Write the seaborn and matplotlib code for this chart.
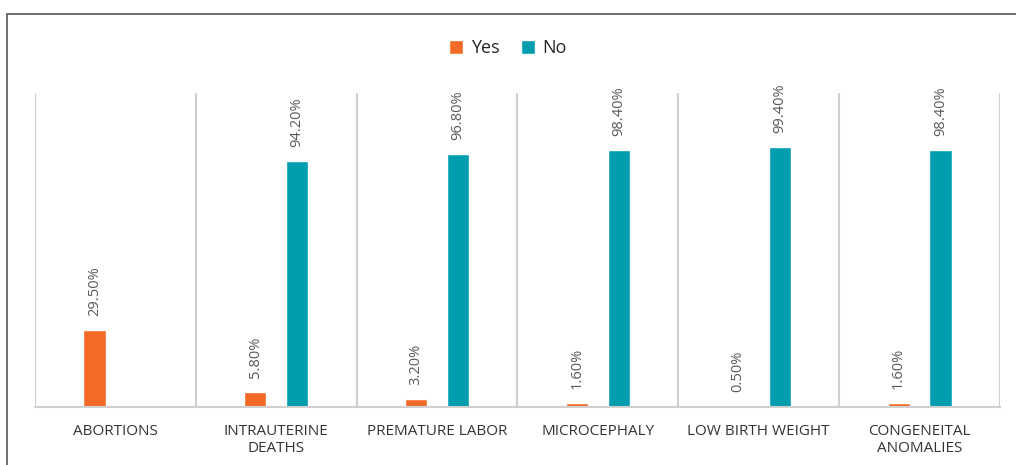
import pandas as pd
import numpy as np
import matplotlib.pyplot as plt
import seaborn as sns
from matplotlib.patches import Rectangle

# data
categories = ["ABORTIONS", "INTRAUTERINE\nDEATHS", "PREMATURE LABOR",
              "MICROCEPHALY", "LOW BIRTH WEIGHT", "CONGENEITAL\nANOMALIES"]
yes_values = [29.5, 5.8, 3.2, 1.6, 0.5, 1.6]
no_values = [None, 94.2, 96.8, 98.4, 99.4, 98.4]

rows = []
for cat, y, n in zip(categories, yes_values, no_values):
    rows.append({"Outcome": cat, "Response": "Yes", "Percent": y})
    if n is not None:
        rows.append({"Outcome": cat, "Response": "No", "Percent": n})
df = pd.DataFrame(rows)

sns.set_style("white")
plt.rcParams['font.family'] = ['Open Sans', 'DejaVu Sans']

fig = plt.figure(figsize=(10.16, 4.65), dpi=100)
ax = fig.add_axes([0.0344, 0.1247, 0.9498, 0.6753])

sns.barplot(data=df, x="Outcome", y="Percent", hue="Response",
            order=categories, hue_order=["Yes", "No"],
            palette={"Yes": "#F26A26", "No": "#009DAE"}, saturation=1,
            width=0.52, gap=0.47, ax=ax)

for cont in ax.containers:
    ax.bar_label(cont, fmt="{:.2f}%", rotation=90, padding=10,
                 fontsize=10.5, color="#595959")

ax.set_ylim(0, 120)
ax.set_xlim(-0.5, len(categories) - 0.5)
ax.set_yticks([])
ax.set_xlabel("")
ax.set_ylabel("")
ax.tick_params(axis="x", length=0, pad=12, labelsize=11, labelcolor="#333333")

for x in np.arange(-0.5, len(categories), 1):
    ax.axvline(x, color="#d0d0d0", lw=1.5, zorder=0)

for side in ["top", "right", "left"]:
    ax.spines[side].set_visible(False)
ax.spines["bottom"].set_color("#d0d0d0")
ax.spines["bottom"].set_linewidth(1.5)

handles, labels = ax.get_legend_handles_labels()
ax.legend(handles, labels, loc="center", bbox_to_anchor=(0.5, 0.897),
          bbox_transform=fig.transFigure, ncol=2, frameon=False,
          handlelength=0.8, handleheight=0.8, handletextpad=0.4,
          columnspacing=1.2, fontsize=13, labelcolor="#262626")

# outer frame
fig.patches.append(Rectangle((7 / 1016, -0.1), 1.2, 1.1 - 14 / 465,
                             transform=fig.transFigure, fill=False,
                             edgecolor="#555555", lw=1.2))

fig.savefig("out.png", dpi=100)
